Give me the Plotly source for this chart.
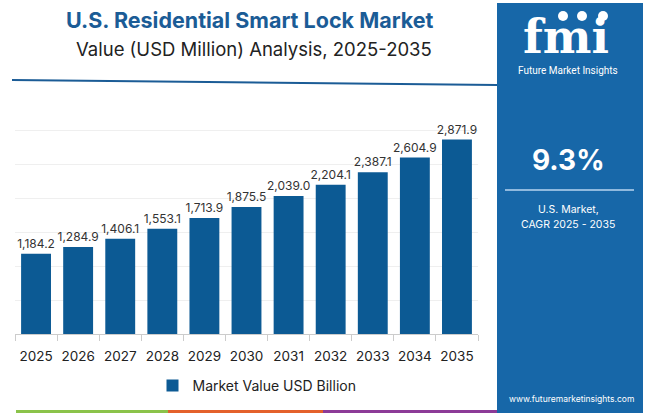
import plotly.graph_objects as go

years = ["2025", "2026", "2027", "2028", "2029", "2030", "2031", "2032", "2033", "2034", "2035"]
values = [1184.2, 1284.9, 1406.1, 1553.1, 1713.9, 1875.5, 2039.0, 2204.1, 2387.1, 2604.9, 2871.9]
series_name = "Market Value USD Billion"
title = "U.S. Residential Smart Lock Market"
subtitle = "Value (USD Million) Analysis, 2025-2035"
cagr = "9.3%"
cagr_label = ["U.S. Market,", "CAGR 2025 - 2035"]

W, H = 650, 416
L, R, T, B = 15, 478, 97, 334  # plot area in pixels

def px(x):
    return (x - L) / (R - L)

def py(y):
    return (B - y) / (B - T)

BAR = "#0c5a94"
PANEL = "#1767a8"
TITLE_C = "#1b5c96"

fig = go.Figure()
fig.add_trace(go.Bar(
    x=years, y=values, name=series_name,
    marker=dict(color=BAR, line=dict(width=0)),
    texttemplate="%{y:,.1f}", textposition="outside", constraintext="none",
    textfont=dict(family="Inter, sans-serif", size=12, color="#333333"),
    cliponaxis=False,
))

shapes = []
# top rule
shapes.append(dict(type="line", xref="paper", yref="paper", x0=px(12), x1=px(497), y0=py(80), y1=py(85),
                   line=dict(color=TITLE_C, width=2)))
# right panel
shapes.append(dict(type="rect", xref="paper", yref="paper", x0=px(497), x1=px(643), y0=py(3), y1=py(413),
                   fillcolor=PANEL, line=dict(width=0), layer="above"))
# panel separator line
shapes.append(dict(type="line", xref="paper", yref="paper", x0=px(505), x1=px(634), y0=py(190), y1=py(190),
                   line=dict(color="#8fb9de", width=2), layer="above"))
# logo icons
for cx in (563, 582, 603):
    shapes.append(dict(type="circle", xref="paper", yref="paper", x0=px(cx - 5), x1=px(cx + 5),
                       y0=py(11), y1=py(21), fillcolor="white", line=dict(width=0), layer="above"))
# bottom colour strip
for x0, x1, c in ((16, 168, "#8bc34a"), (168, 323, "#e4612b"), (323, 497, "#8c3b97")):
    shapes.append(dict(type="line", xref="paper", yref="paper", x0=px(x0), x1=px(x1), y0=py(411.5), y1=py(411.5),
                       line=dict(color=c, width=3)))

ann = []
def text(x, y, s, size, color, family="Inter, sans-serif", bold=False):
    ann.append(dict(xref="paper", yref="paper", x=px(x), y=py(y), text=("<b>%s</b>" % s) if bold else s,
                    showarrow=False, xanchor="center", yanchor="middle",
                    font=dict(family=family, size=size, color=color)))

text(250, 20, title, 21.5, TITLE_C, bold=True)
text(254, 49, subtitle, 18.5, "#222222")
text(566, 37, "fmi", 46, "white", family="DejaVu Serif, serif", bold=True)
text(568, 70, "Future Market Insights", 10, "white", family="Roboto, sans-serif")
text(568, 160, cagr, 28, "white", bold=True)
text(568, 209, cagr_label[0], 10.5, "white")
text(568, 224, cagr_label[1], 10.5, "white")
text(571, 399, "www.futuremarketinsights.com", 8.5, "white")

fig.update_layout(
    width=W, height=H, autosize=False,
    margin=dict(l=L, r=W - R, t=T, b=H - B, pad=0, autoexpand=False),
    paper_bgcolor="white", plot_bgcolor="white",
    bargap=0.29,
    showlegend=True,
    legend=dict(orientation="h", x=px(257), xanchor="center", y=py(386), yanchor="middle",
                font=dict(family="Inter, sans-serif", size=14, color="#222222")),
    xaxis=dict(type="category", showline=True, linecolor="#cccccc", linewidth=1,
               ticks="outside", tickson="boundaries", ticklen=6, tickcolor="#cccccc", tickangle=0,
               ticklabelstandoff=10,
               tickfont=dict(family="Inter, sans-serif", size=13.5, color="#222222"), showgrid=False),
    yaxis=dict(range=[0, 3500], dtick=500, showticklabels=False, showgrid=True, gridcolor="#efefef",
               zeroline=True, zerolinecolor="#cccccc", zerolinewidth=1),
    shapes=shapes, annotations=ann,
)

fig.write_html("out.html", config={"displayModeBar": False},
               post_script="document.body.style.margin='0';document.body.style.overflow='hidden';")
